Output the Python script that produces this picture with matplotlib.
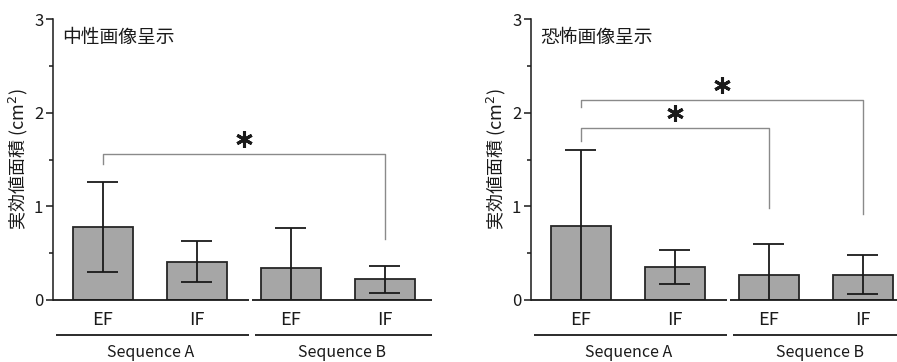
import matplotlib
matplotlib.use("Agg")
import matplotlib.pyplot as plt
from matplotlib.ticker import MultipleLocator

plt.rcParams['font.family'] = ['Noto Sans CJK JP', 'DejaVu Sans']

categories = ["EF", "IF", "EF", "IF"]
groups = ["Sequence A", "Sequence B"]
titles = ["中性画像呈示", "恐怖画像呈示"]
ylabel = "実効値面積 (cm$^2$)"

neutral_mean = [0.78, 0.41, 0.34, 0.22]
neutral_err = [0.48, 0.22, 0.43, 0.14]
fear_mean = [0.79, 0.35, 0.27, 0.27]
fear_err = [0.81, 0.18, 0.33, 0.21]

# brackets: (from index, to index, bar height, left leg bottom, right leg bottom)
neutral_brackets = [(0, 3, 1.56, 1.45, 0.65)]
fear_brackets = [(0, 2, 1.84, 1.70, 0.98), (0, 3, 2.14, 2.06, 0.92)]

W, H = 897, 362
fig = plt.figure(figsize=(W / 100, H / 100), dpi=100)

def px_axes(x0, width):
    return fig.add_axes([x0 / W, 62 / H, width / W, 281 / H])

panels = [
    (53, neutral_mean, neutral_err, neutral_brackets, titles[0]),
    (531, fear_mean, fear_err, fear_brackets, titles[1]),
]

for x0, means, errs, brackets, title in panels:
    ax = px_axes(x0, 379)
    xs = list(range(len(categories)))
    ax.bar(xs, means, width=0.645, color="#a6a6a6", edgecolor="#262626",
           linewidth=1.3, zorder=2)
    lower = [min(e, m) for m, e in zip(means, errs)]
    for x, m, e, lo in zip(xs, means, errs, lower):
        ax.errorbar([x], [m], yerr=[[lo], [e]], fmt="none", ecolor="#1a1a1a",
                    elinewidth=1.3, capsize=0, zorder=3, clip_on=False)
        ax.plot([x - 0.165, x + 0.165], [m + e, m + e], color="#1a1a1a",
                lw=1.3, zorder=3, solid_capstyle="butt")
        if e < m:
            ax.plot([x - 0.165, x + 0.165], [m - e, m - e], color="#1a1a1a",
                    lw=1.3, zorder=3, solid_capstyle="butt")
    ax.set_xlim(-0.53, 3.5)
    ax.set_ylim(0, 3)
    for s in ["top", "right", "bottom"]:
        ax.spines[s].set_visible(False)
    ax.spines["left"].set_linewidth(1.1)
    ax.spines["left"].set_color("#1a1a1a")
    ax.set_xticks([])
    ax.yaxis.set_major_locator(MultipleLocator(1))
    ax.yaxis.set_minor_locator(MultipleLocator(0.5))
    ax.tick_params(axis="y", which="major", direction="out", length=5,
                   width=1.1, labelsize=12, pad=2, colors="#1a1a1a")
    ax.tick_params(axis="y", which="minor", direction="out", length=3,
                   width=1.1, colors="#1a1a1a")
    ax.set_ylabel(ylabel, fontsize=13, labelpad=3, color="#1a1a1a")
    # broken baseline and group lines
    for (a, b), g in zip([(-0.53, 1.55), (1.59, 3.5)], groups):
        ax.plot([a, b], [0, 0], color="#1a1a1a", lw=1.3, clip_on=False, zorder=4,
                solid_capstyle="butt")
        ax.plot([a + 0.03, b], [-0.373, -0.373], color="#1a1a1a", lw=1.3,
                clip_on=False, solid_capstyle="butt")
        ax.text((a + b) / 2, -0.56, g, ha="center", va="center", fontsize=11.5,
                color="#1a1a1a")
    for x, c in zip(xs, categories):
        ax.text(x, -0.21, c, ha="center", va="center", fontsize=13,
                color="#1a1a1a")
    ax.text(0.025, 0.935, title, transform=ax.transAxes, ha="left",
            va="center", fontsize=13.5, color="#1a1a1a")
    for i, j, h, l1, l2 in brackets:
        ax.plot([i, i, j, j], [l1, h, h, l2], color="#8a8a8a", lw=1.0,
                zorder=1)
        ax.plot([(i + j) / 2], [h + 0.16], marker=(6, 2, 0), markersize=12,
                markeredgewidth=2.2, color="#1a1a1a", linestyle="none")

fig.savefig("out.png", dpi=100)
